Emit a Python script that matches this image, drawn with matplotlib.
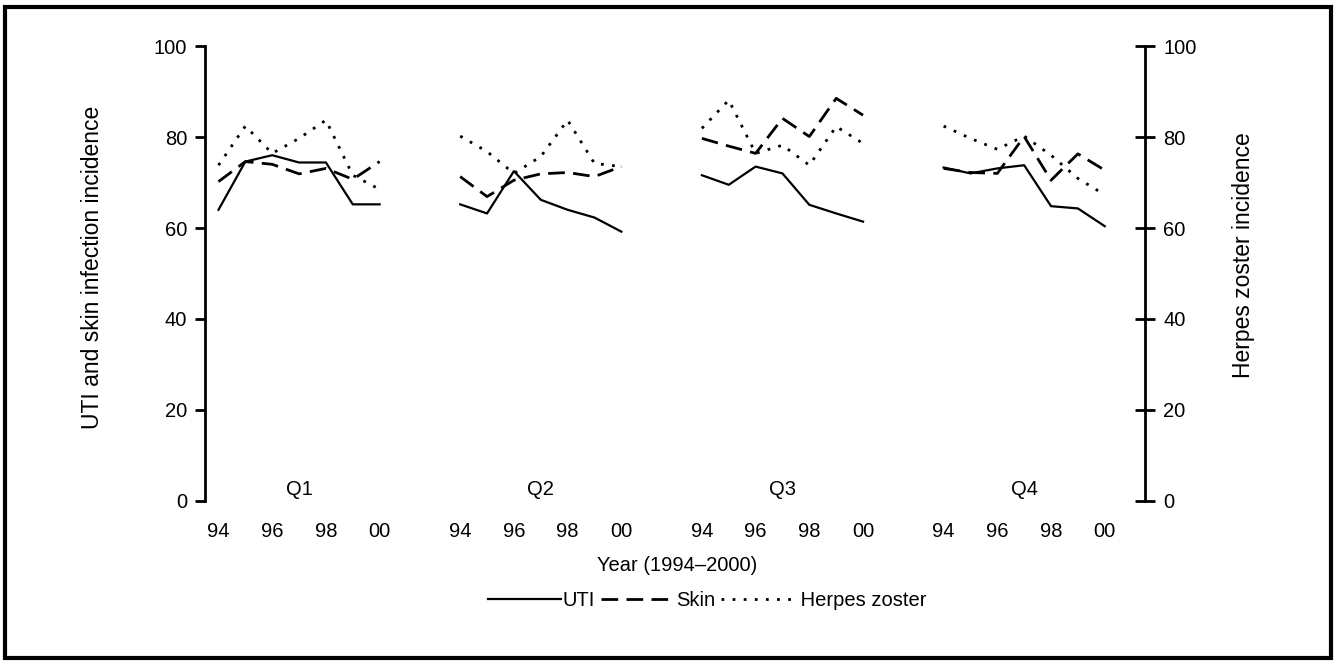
import numpy as np
from matplotlib import pyplot as plt
from matplotlib.patches import Rectangle

plt.rcParams['font.family'] = ['Liberation Sans', 'DejaVu Sans']

quarters = ['Q1', 'Q2', 'Q3', 'Q4']
year_labels = ['94', '96', '98', '00']
n_years = 7

# values read per quarter, years 1994..2000
uti = [
    [64.0, 74.6, 76.0, 74.4, 74.4, 65.2, 65.2],
    [65.2, 63.2, 72.5, 66.2, 64.0, 62.3, 59.2],
    [71.6, 69.5, 73.5, 72.0, 65.1, 63.2, 61.4],
    [73.3, 72.0, 73.1, 73.8, 64.8, 64.3, 60.4],
]
skin = [
    [70.2, 74.6, 74.0, 71.9, 73.1, 70.7, 74.6],
    [71.3, 66.9, 70.5, 71.9, 72.2, 71.3, 73.5],
    [79.7, 78.0, 76.4, 84.1, 80.1, 88.5, 84.8],
    [73.1, 72.2, 72.0, 80.1, 70.5, 76.3, 72.7],
]
herpes = [
    [73.8, 82.4, 76.4, 79.7, 83.7, 71.6, 68.5],
    [80.2, 76.8, 72.0, 75.7, 83.7, 74.2, 73.5],
    [81.9, 88.1, 76.4, 78.2, 73.8, 82.3, 78.6],
    [82.4, 79.7, 77.3, 80.2, 76.0, 70.9, 67.3],
]

fs = 14.5

fig = plt.figure(figsize=(13.35, 6.64), dpi=100)
ax = fig.add_axes([0.1536, 0.2455, 0.7041, 0.6852])
ax2 = ax.twinx()

gap = 9
xticks = []
xticklabels = []
for g in range(4):
    x = np.arange(n_years) + g * gap
    l1, = ax.plot(x, uti[g], color='black', lw=1.6, ls='-')
    l2, = ax.plot(x, skin[g], color='black', lw=2.0, ls=(0, (6, 3)))
    l3, = ax2.plot(x, herpes[g], color='black', lw=2.0, ls=(0, (1, 3)))
    for k, lab in enumerate(year_labels):
        xticks.append(g * gap + 2 * k)
        xticklabels.append(lab)
    ax.text(g * gap + 3, 2.6, quarters[g], ha='center', va='center', fontsize=fs)

ax.set_xlim(-0.5, 34.5)
for a in (ax, ax2):
    a.set_ylim(0, 100)
    a.set_yticks(np.arange(0, 101, 20))
    a.spines['top'].set_visible(False)
    a.spines['bottom'].set_visible(False)
    a.tick_params(axis='y', labelsize=fs, width=2, length=7, pad=6)
ax.spines['right'].set_visible(False)
ax.spines['left'].set_linewidth(2)
ax2.spines['left'].set_visible(False)
ax2.spines['right'].set_linewidth(2)
ax2.tick_params(axis='y', direction='inout', length=14)

ax.set_xticks(xticks)
ax.set_xticklabels(xticklabels)
ax.tick_params(axis='x', length=0, pad=15, labelsize=fs)

ax.set_ylabel('UTI and skin infection incidence', fontsize=16.5)
ax.yaxis.set_label_coords(-0.108, 0.514)
ax2.set_ylabel('Herpes zoster incidence', fontsize=16.5)
ax2.yaxis.set_label_coords(1.093, 0.54)
fig.text(0.507, 0.149, 'Year (1994\u20132000)', ha='center', va='center', fontsize=fs)

fig.legend([l1, l2, l3], ['UTI', 'Skin', ' Herpes zoster'],
           loc='center', bbox_to_anchor=(0.53, 0.095), ncol=3, frameon=False,
           fontsize=fs, handlelength=3.6, handletextpad=0.1, columnspacing=0.3)

fig.patches.append(Rectangle((0.004, 0.009), 0.993, 0.981, transform=fig.transFigure,
                             fill=False, edgecolor='black', linewidth=3))

fig.savefig('out.png', dpi=100)
